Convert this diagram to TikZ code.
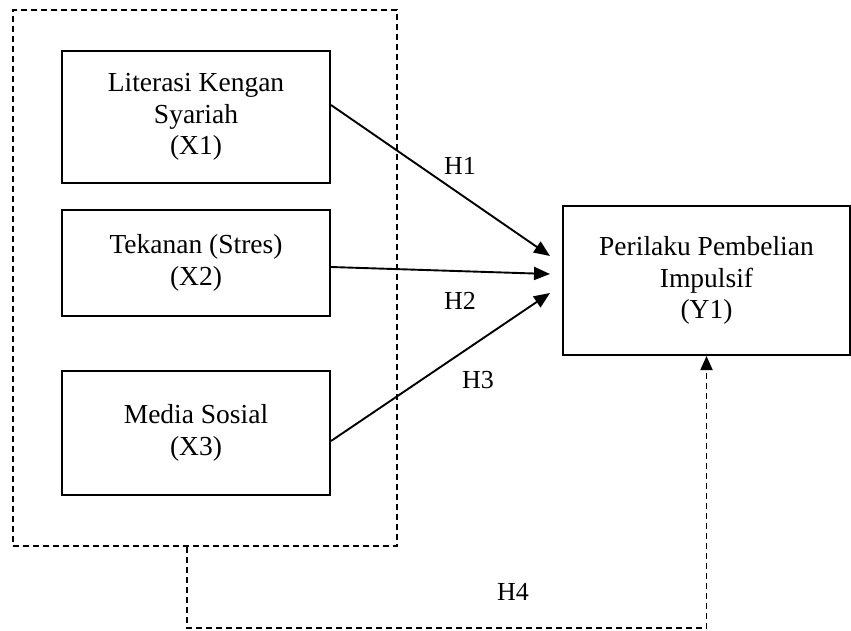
\documentclass[tikz,border=0pt]{standalone}
\usepackage{fontspec}
\setmainfont{Liberation Serif}
\usetikzlibrary{arrows.meta}

\begin{document}
\begin{tikzpicture}[x=1pt,y=-1pt,
  varbox/.style={draw,line width=2pt,align=center,inner sep=0pt,minimum width=268pt,font=\fontsize{27.5}{31.5}\selectfont},
  hlabel/.style={font=\fontsize{26}{30}\selectfont},
  harrow/.style={line width=1.9pt,-{Triangle[length=16pt,width=13pt]}},
  dline/.style={line width=1.8pt,dash pattern=on 6pt off 4pt}]
\useasboundingbox (0,0) rectangle (851,630);

%group of independent variables
\node[draw,dline,minimum width=384pt,minimum height=536pt] (grp) at (205,278) {};

\node[varbox,minimum height=132pt] (x1) at (196,117) {Literasi Kengan\\Syariah\\(X1)};
\node[varbox,minimum height=106pt] (x2) at (196,263) {Tekanan (Stres)\\(X2)};
\node[varbox,minimum height=124pt] (x3) at (196,433) {Media Sosial\\(X3)};

\node[varbox,minimum width=287pt,minimum height=149pt] (y1) at (706.5,280.5) {Perilaku Pembelian\\Impulsif\\(Y1)};

%arrow tips in front of y1
\coordinate (t1) at (550,256);
\coordinate (t2) at (550,274);
\coordinate (t3) at (550,293);
\coordinate (h4a) at (187,628);

\draw[harrow] ([yshift=12pt]x1.east) -- (t1);
\draw[harrow] ([yshift=-4pt]x2.east) -- (t2);
\draw[harrow] ([yshift=-8pt]x3.east) -- (t3);

%\draw[dline] (grp.south) -- (y1.south);
\draw[dline,-{Triangle[length=14pt,width=12pt]}] (grp.south -| h4a) -- (h4a) -| (y1.south);

\node[hlabel] (lh1) at (460,166) {H1};
\node[hlabel] (lh2) at (460,301) {H2};
\node[hlabel] (lh3) at (478,380) {H3};
\node[hlabel] (lh4) at (513,592) {H4};

\end{tikzpicture}
\end{document}
